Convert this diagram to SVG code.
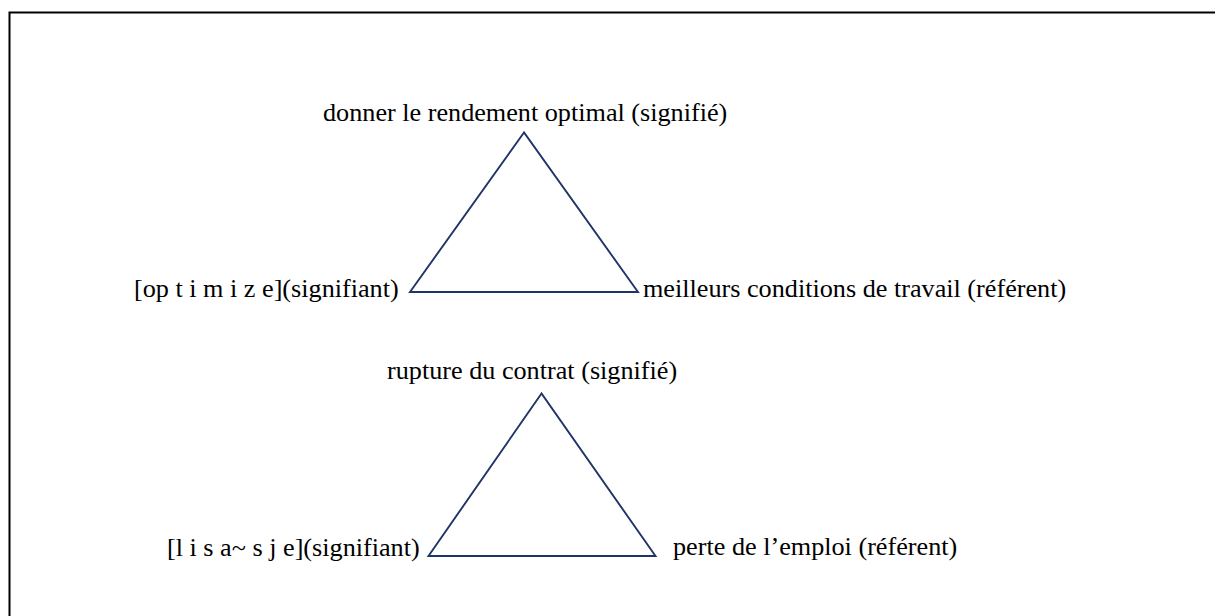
<svg xmlns="http://www.w3.org/2000/svg" width="1215" height="616" viewBox="0 0 1215 616">
<style>
text{font-family:"Liberation Serif","Times New Roman",serif;font-size:26.2px;fill:#000}
.tri{fill:none;stroke:#1f3566;stroke-width:1.9;stroke-linejoin:miter}
.frame{fill:none;stroke:#000;stroke-width:2}
</style>
<rect width="1215" height="616" fill="#fff"/>
<path class="frame" d="M9.5,616 V12.5 H1215"/>
<g id="connectors">
<polygon class="tri" points="524,132.5 410,292 638,292"/>
<polygon class="tri" points="541.5,393.5 428.5,556 655.5,556"/>
</g>
<g id="n1-signifie"><text x="323" y="121">donner le rendement optimal (signifié)</text></g>
<g id="n1-signifiant"><text x="134" y="297">[op t i m i z e](signifiant)</text></g>
<g id="n1-referent"><text x="643" y="297">meilleurs conditions de travail (référent)</text></g>
<g id="n2-signifie"><text x="387" y="379">rupture du contrat (signifié)</text></g>
<g id="n2-signifiant"><text x="167" y="556">[l i s a~ s j e](signifiant)</text></g>
<g id="n2-referent"><text x="673" y="555">perte de l’emploi (référent)</text></g>
</svg>
